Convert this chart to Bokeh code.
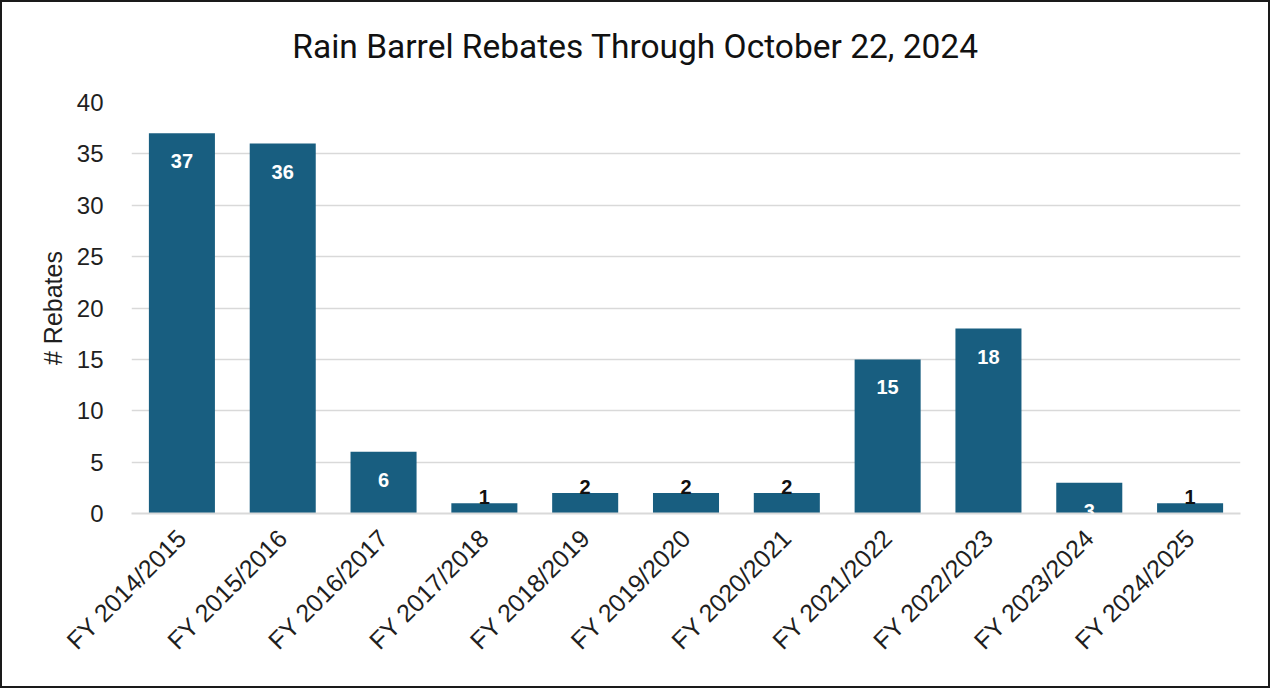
from math import pi

from bokeh.core.properties import value
from bokeh.embed import file_html
from bokeh.layouts import column
from bokeh.models import (ColumnDataSource, FactorRange, LabelSet, Range1d,
                          SingleIntervalTicker)
from bokeh.plotting import figure
from bokeh.resources import INLINE

# Rebates per fiscal year
fiscal_years = [
    "FY 2014/2015", "FY 2015/2016", "FY 2016/2017", "FY 2017/2018",
    "FY 2018/2019", "FY 2019/2020", "FY 2020/2021", "FY 2021/2022",
    "FY 2022/2023", "FY 2023/2024", "FY 2024/2025",
]
rebates = [37, 36, 6, 1, 2, 2, 2, 15, 18, 3, 1]
chart_title = "Rain Barrel Rebates Through October 22, 2024"

BAR_COLOR = "#185E80"
TEXT_COLOR = "#1f1f1f"
GRID_COLOR = "#d9d9d9"
SANS = "Liberation Sans"
W = 1266
HEAD_H = 88
LEFT, RIGHT, TOP, BOTTOM = 129, 28, 12, 173
PLOT_H = 596

# --- title strip; its frame lines up with the chart frame below, so the
# x range is set so that one data unit equals one pixel of the canvas ---
head = figure(
    width=W, height=HEAD_H,
    x_range=Range1d(LEFT, W - RIGHT), y_range=Range1d(0, HEAD_H),
    output_backend="svg", toolbar_location=None,
    x_axis_location=None, y_axis_location=None,
    min_border=0, min_border_left=LEFT, min_border_right=RIGHT,
)
head.grid.visible = False
head.outline_line_color = None
head.text(
    x=[W / 2], y=[HEAD_H - 44], text=[chart_title],
    text_font=value("Roboto"), text_font_size="33.5px", text_color="#111111",
    text_align="center", text_baseline="middle",
)

# --- bar chart ---
# bars tall enough get a white label inside, short ones a dark label on top
inside = [v >= 3 for v in rebates]
src_in = ColumnDataSource(dict(
    x=[f for f, i in zip(fiscal_years, inside) if i],
    y=[v for v, i in zip(rebates, inside) if i],
    t=[str(v) for v, i in zip(rebates, inside) if i],
))
src_out = ColumnDataSource(dict(
    x=[f for f, i in zip(fiscal_years, inside) if not i],
    y=[v for v, i in zip(rebates, inside) if not i],
    t=[str(v) for v, i in zip(rebates, inside) if not i],
))

p = figure(
    width=W, height=PLOT_H,
    x_range=FactorRange(*fiscal_years, range_padding=0),
    y_range=Range1d(0, 40),
    output_backend="svg", toolbar_location=None,
    min_border_left=LEFT, min_border_right=RIGHT,
    min_border_top=TOP, min_border_bottom=BOTTOM,
)

p.vbar(x=fiscal_years, top=rebates, width=0.655, color=BAR_COLOR, line_color=None)

p.add_layout(LabelSet(
    x="x", y="y", text="t", source=src_in,
    text_color="white", text_font=value(SANS), text_font_style="bold",
    text_font_size="20px", text_align="center", text_baseline="middle",
    y_offset=-28,
))
p.add_layout(LabelSet(
    x="x", y="y", text="t", source=src_out,
    text_color="#111111", text_font=value(SANS), text_font_style="bold",
    text_font_size="20px", text_align="center", text_baseline="bottom",
    y_offset=-1,
))

p.outline_line_color = None
p.xgrid.grid_line_color = None
p.ygrid.grid_line_color = GRID_COLOR
p.ygrid.grid_line_width = 1.5

p.yaxis.ticker = SingleIntervalTicker(interval=5)
p.yaxis.axis_line_color = None
p.yaxis.major_tick_line_color = None
p.yaxis.minor_tick_line_color = None
p.yaxis.major_label_text_font = SANS
p.yaxis.major_label_text_font_size = "24px"
p.yaxis.major_label_text_color = TEXT_COLOR
p.yaxis.major_label_standoff = 22
p.yaxis.axis_label = "# Rebates"
p.yaxis.axis_label_text_font = SANS
p.yaxis.axis_label_text_font_size = "25px"
p.yaxis.axis_label_text_font_style = "normal"
p.yaxis.axis_label_text_color = TEXT_COLOR
p.yaxis.axis_label_standoff = 7

p.xaxis.axis_line_color = GRID_COLOR
p.xaxis.axis_line_width = 2
p.xaxis.major_tick_line_color = None
p.xaxis.minor_tick_line_color = None
p.xaxis.major_label_orientation = pi / 4
p.xaxis.major_label_text_font = SANS
p.xaxis.major_label_text_font_size = "25px"
p.xaxis.major_label_text_color = TEXT_COLOR
p.xaxis.major_label_standoff = 14

# thin dark frame around the whole chart
page = column(head, p, spacing=0, styles={"border": "2px solid #1a1a1a"})

open("out.html", "w").write(file_html(page, INLINE))
